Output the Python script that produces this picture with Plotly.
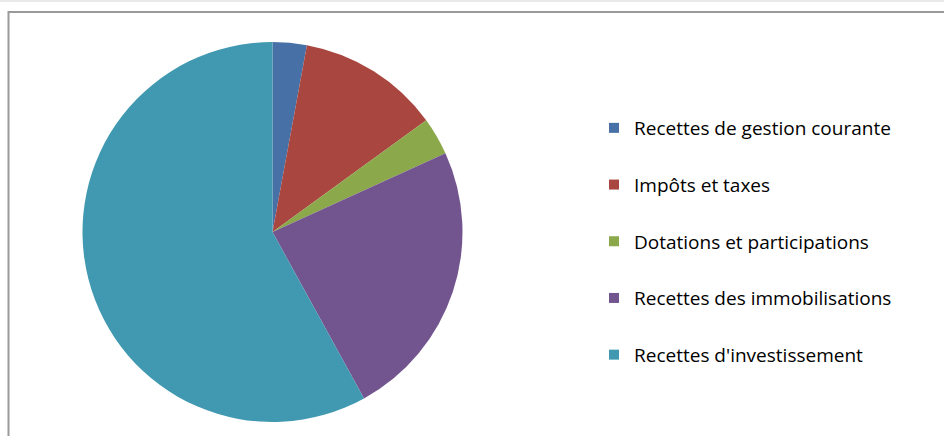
import plotly.graph_objects as go

categories = ["Recettes de gestion courante", "Impôts et taxes", "Dotations et participations",
              "Recettes des immobilisations", "Recettes d'investissement"]
values = [2.9, 12.1, 3.2, 23.8, 58.0]
colors = ["#4670A6", "#A8463F", "#8BA84A", "#72558F", "#4199B1"]

W, H = 944, 436
fig = go.Figure()

cx, cy, r = 272.5, 232, 190
fig.add_trace(go.Pie(
    labels=categories, values=values, sort=False, direction="clockwise", rotation=0,
    marker=dict(colors=colors, line=dict(width=0)), textinfo="none", hoverinfo="label+percent",
    showlegend=False,
    domain=dict(x=[(cx - r) / W, (cx + r) / W], y=[1 - (cy + r) / H, 1 - (cy - r) / H]),
))

for i, (c, col) in enumerate(zip(categories, colors)):
    fig.add_trace(go.Scatter(x=[None], y=[None], mode="markers", name=c, legendgroup=f"g{i}",
                             marker=dict(symbol="square", size=10, color=col)))

fig.update_layout(
    width=W, height=H, margin=dict(l=0, r=0, t=0, b=0),
    paper_bgcolor="white", plot_bgcolor="white",
    xaxis=dict(visible=False), yaxis=dict(visible=False),
    font=dict(family="Open Sans", size=19, color="#000000"),
    legend=dict(x=594 / W, y=1 - 109 / H, xanchor="left", yanchor="top",
                tracegroupgap=29, bgcolor="rgba(0,0,0,0)", font=dict(size=19)),
    shapes=[
        dict(type="rect", xref="paper", yref="paper", x0=8.5 / W, x1=1.02, y0=-0.02, y1=1 - 12 / H,
             line=dict(color="#9a9a9a", width=2), fillcolor="rgba(0,0,0,0)", layer="below"),
        dict(type="line", xref="paper", yref="paper", x0=0, x1=1, y0=1 - 1 / H, y1=1 - 1 / H,
             line=dict(color="#d4d4d4", width=1)),
    ],
)

fig.write_html("out.html", config={"displayModeBar": False},
               post_script="document.body.style.margin='0';")
